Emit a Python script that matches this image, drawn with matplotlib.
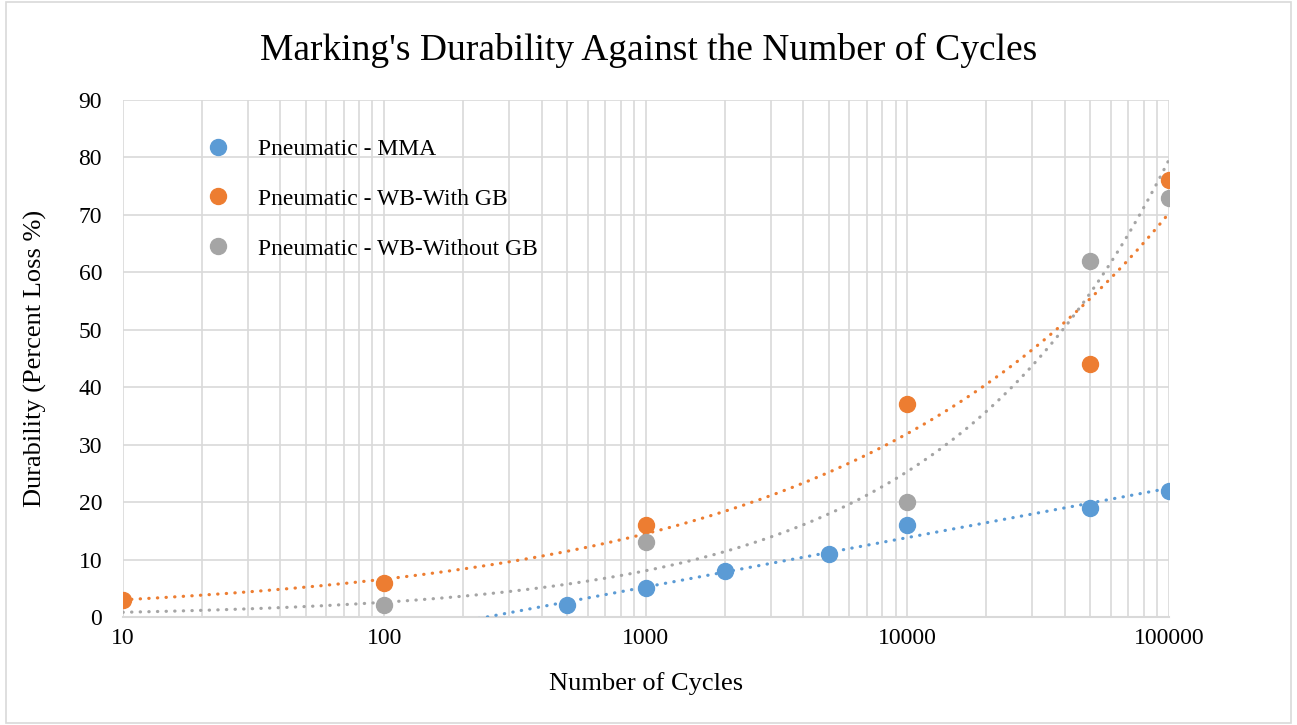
import numpy as np
import matplotlib
matplotlib.use('Agg')
import matplotlib.pyplot as plt
from matplotlib.ticker import LogLocator, FixedLocator, NullFormatter

plt.rcParams['font.family'] = ['Liberation Serif', 'DejaVu Serif']

# data
mma_x = [500, 1000, 2000, 5000, 10000, 50000, 100000]
mma_y = [2, 5, 8, 11, 16, 19, 22]
wb_gb_x = [10, 100, 1000, 10000, 50000, 100000]
wb_gb_y = [3, 6, 16, 37, 44, 76]
wb_nogb_x = [100, 1000, 10000, 50000, 100000]
wb_nogb_y = [2, 13, 20, 62, 73]

labels = ['Pneumatic - MMA', 'Pneumatic - WB-With GB', 'Pneumatic - WB-Without GB']
colors = ['#5B9BD5', '#ED7D31', '#A5A5A5']

fig = plt.figure(figsize=(12.97, 7.25), dpi=100)
ax = fig.add_axes([0.0948, 0.149, 0.8065, 0.713])

# figure border
fig.patches.append(plt.Rectangle((0.005, 0.003), 0.99, 0.994, transform=fig.transFigure,
                                 fill=False, edgecolor='#d9d9d9', lw=1.2))

xs = np.logspace(1, 5, 400)

# trendlines (Excel style): log fit for MMA, power fits for the WB series
a, b = np.polyfit(np.log(mma_x), mma_y, 1)
trend_mma = a * np.log(xs) + b
p1 = np.polyfit(np.log(wb_gb_x), np.log(wb_gb_y), 1)
trend_gb = np.exp(p1[1]) * xs ** p1[0]
p2 = np.polyfit(np.log(wb_nogb_x), np.log(wb_nogb_y), 1)
trend_nogb = np.exp(p2[1]) * xs ** p2[0]

dot = (0, (0.1, 2.6))
for trend, c in zip([trend_mma, trend_gb, trend_nogb], colors):
    ax.plot(xs, trend, color=c, lw=2.3, linestyle=dot, dash_capstyle='round', zorder=3)

ax.plot(mma_x, mma_y, 'o', color=colors[0], ms=11.5, label=labels[0], zorder=4)
ax.plot(wb_gb_x, wb_gb_y, 'o', color=colors[1], ms=11.5, label=labels[1], zorder=4)
ax.plot(wb_nogb_x, wb_nogb_y, 'o', color=colors[2], ms=11.5, label=labels[2], zorder=4)

ax.set_xscale('log')
ax.set_xlim(10, 100000)
ax.set_ylim(0, 90)
ax.set_yticks(np.arange(0, 91, 10))
ax.xaxis.set_major_locator(FixedLocator([10, 100, 1000, 10000, 100000]))
ax.set_xticklabels(['10', '100', '1000', '10000', '100000'])
ax.xaxis.set_minor_locator(LogLocator(base=10, subs=np.arange(2, 10), numticks=20))
ax.xaxis.set_minor_formatter(NullFormatter())

ax.grid(True, which='both', axis='x', color='#d9d9d9', lw=1.2)
ax.grid(True, which='major', axis='y', color='#d9d9d9', lw=1.2)
ax.set_axisbelow(True)
for s in ['top', 'right', 'left']:
    ax.spines[s].set_visible(False)
ax.spines['bottom'].set_color('#d9d9d9')
ax.spines['bottom'].set_linewidth(1.5)
ax.tick_params(which='both', length=0, labelsize=17, colors='black')
ax.tick_params(axis='x', pad=8)
ax.tick_params(axis='y', pad=15)

fig.text(0.5, 1 - 50 / 725, "Marking's Durability Against the Number of Cycles",
         fontsize=27, ha='center', va='center')
ax.set_xlabel('Number of Cycles', fontsize=19)
ax.set_ylabel('Durability (Percent Loss %)', fontsize=19)
ax.xaxis.set_label_coords(0.5, -0.106)
ax.yaxis.set_label_coords(-0.073, 0.5)

ax.legend(loc='upper left', bbox_to_anchor=(0.068, 0.926), frameon=False, fontsize=17,
          labelspacing=1.2, handletextpad=0.7, borderaxespad=0, borderpad=0)

plt.savefig('out.png', dpi=100)
